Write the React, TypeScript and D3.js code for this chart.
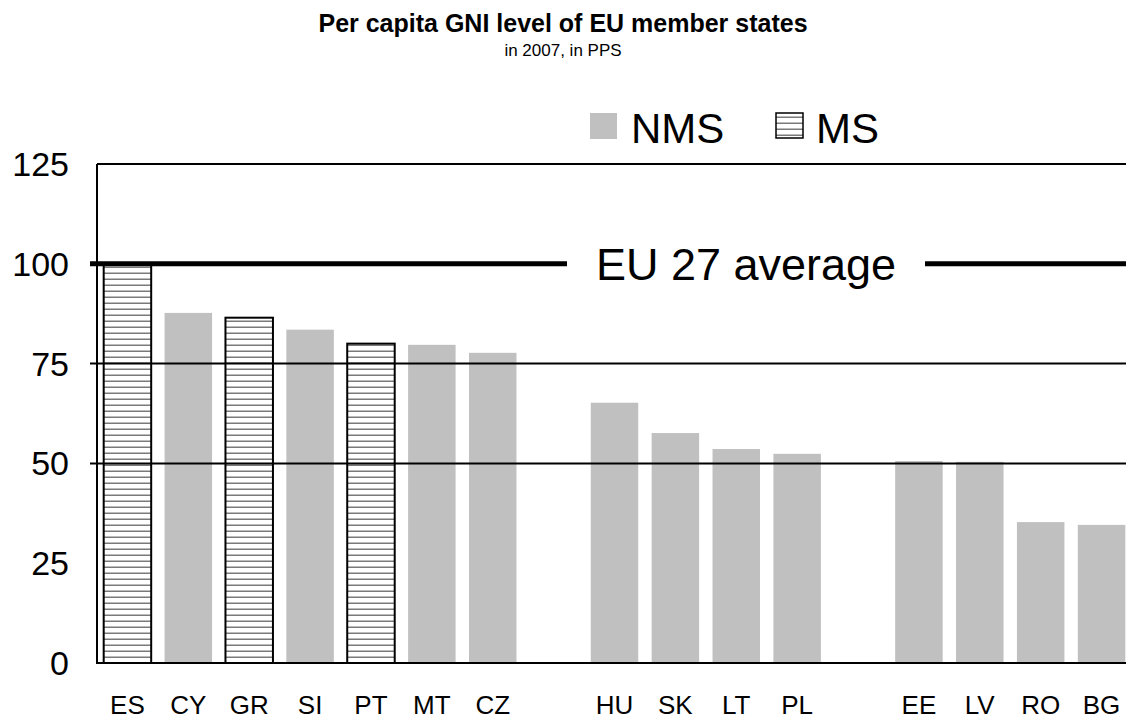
import * as d3 from "d3";

// slots: empty strings are the gaps between the country groups
const countries = ["ES", "CY", "GR", "SI", "PT", "MT", "CZ", "", "HU", "SK", "LT", "PL", "", "EE", "LV", "RO", "BG"];
const values = [100, 87.7, 86.5, 83.5, 80, 79.7, 77.7, 0, 65.2, 57.6, 53.6, 52.4, 0, 50.6, 50.4, 35.3, 34.6];
const groups = ["MS", "NMS", "MS", "NMS", "MS", "NMS", "NMS", "", "NMS", "NMS", "NMS", "NMS", "", "NMS", "NMS", "NMS", "NMS"];
const yTicks = [0, 25, 50, 75, 100, 125];
const gridValues = [50, 75];
const averageValue = 100;
const legendItems = ["NMS", "MS"];

const W = 1126;
const H = 719;
const FONT = "'Liberation Sans', Arial, sans-serif";
const GREY = "#c0c0c0";

export default function App() {
	const slots = countries.map((_, i) => String(i));
	const x = d3.scaleBand().domain(slots).range([97, 1132]).paddingInner(0.22).paddingOuter(0.11);
	const y = d3.scaleLinear().domain([0, 125]).range([663, 164]);
	const left = 97;

	const avgY = y(averageValue);
	const gapL = 567;
	const gapR = 925;

	return (
		<svg
			width={W}
			height={H}
			style={{ position: "absolute", left: 0, top: 0, background: "#fff" }}
			fontFamily={FONT}
		>
			<defs>
				<pattern id="hatch" patternUnits="userSpaceOnUse" width={8} height={6}>
					<rect width={8} height={6} fill="#fff" />
					<rect y={2.5} width={8} height={1.5} fill="#7a7a7a" />
				</pattern>
			</defs>

			<text x={W / 2} y={32} textAnchor="middle" fontSize={25} fontWeight="bold">
				Per capita GNI level of EU member states
			</text>
			<text x={W / 2} y={56} textAnchor="middle" fontSize={17}>
				in 2007, in PPS
			</text>

			{/* legend */}
			<g>
				<rect x={590} y={113} width={27} height={26} fill={GREY} />
				<text x={631} y={143} fontSize={42}>
					{legendItems[0]}
				</text>
				<rect x={776} y={113} width={27} height={25} fill="url(#hatch)" stroke="#000" strokeWidth={1.5} />
				<text x={816} y={143} fontSize={42}>
					{legendItems[1]}
				</text>
			</g>

			{/* bars */}
			{countries.map((c, i) =>
				c === "" ? null : groups[i] === "MS" ? (
					<rect
						key={c}
						x={x(slots[i])}
						y={y(values[i])}
						width={x.bandwidth()}
						height={y(0) - y(values[i])}
						fill="url(#hatch)"
						stroke="#000"
						strokeWidth={2}
					/>
				) : (
					<rect
						key={c}
						x={x(slots[i])}
						y={y(values[i])}
						width={x.bandwidth()}
						height={y(0) - y(values[i])}
						fill={GREY}
					/>
				)
			)}

			{/* grid lines drawn over the bars */}
			{gridValues.map((v) => (
				<line key={v} x1={90} x2={W} y1={y(v)} y2={y(v)} stroke="#000" strokeWidth={2} />
			))}
			<line x1={left} x2={W} y1={y(125)} y2={y(125)} stroke="#000" strokeWidth={2} />
			<line x1={left - 1} x2={W} y1={y(0)} y2={y(0)} stroke="#000" strokeWidth={2} />
			<line x1={left} x2={left} y1={y(125)} y2={y(0)} stroke="#000" strokeWidth={2} />

			{/* EU 27 average */}
			<line x1={90} x2={gapL} y1={avgY} y2={avgY} stroke="#000" strokeWidth={5} />
			<line x1={gapR} x2={W} y1={avgY} y2={avgY} stroke="#000" strokeWidth={5} />
			<text x={(gapL + gapR) / 2} y={avgY + 16} textAnchor="middle" fontSize={45}>
				EU 27 average
			</text>

			{/* y labels */}
			{yTicks.map((t) => (
				<text key={t} x={69} y={y(t) + 12} textAnchor="end" fontSize={34}>
					{t}
				</text>
			))}

			{/* x labels */}
			{countries.map((c, i) =>
				c === "" ? null : (
					<text key={c} x={(x(slots[i]) ?? 0) + x.bandwidth() / 2} y={714} textAnchor="middle" fontSize={26}>
						{c}
					</text>
				)
			)}
		</svg>
	);
}
